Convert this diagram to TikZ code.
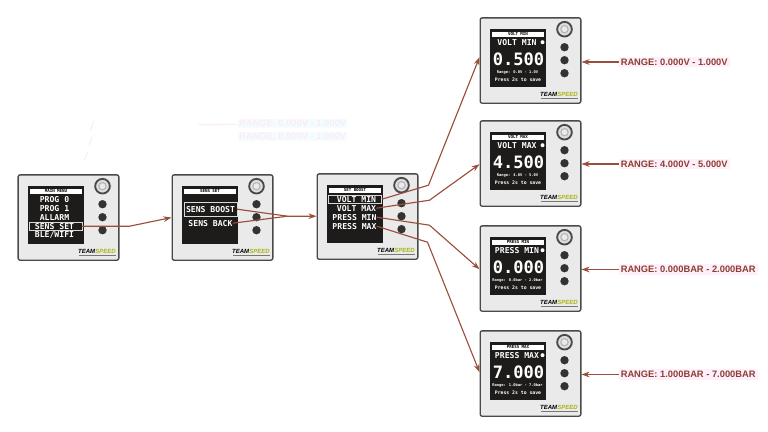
\documentclass[tikz,border=0pt]{standalone}
\usepackage{fontspec}
\setmainfont{Liberation Sans}
\newfontfamily\monob{DejaVu Sans Mono Bold}
\usetikzlibrary{arrows.meta}
\definecolor{panelfill}{HTML}{EAEAEA}
\definecolor{paneledge}{HTML}{4A4A4A}
\definecolor{screenc}{HTML}{1E1C1B}
\definecolor{wire}{HTML}{9A4E3C}
\definecolor{rangec}{HTML}{8A3F30}
\definecolor{halo}{HTML}{FFEFFA}
\definecolor{ghost}{HTML}{FBEBF8}
\definecolor{ghostb}{HTML}{F4FDFE}
\definecolor{logoy}{HTML}{A8B414}
\tikzset{
  panelbox/.style={draw=paneledge,line width=1pt,fill=panelfill,rounded corners=1.5pt,minimum width=75.5pt,minimum height=64pt,inner sep=0pt,anchor=north west},
  screenbox/.style={fill=screenc,minimum width=42.5pt,minimum height=43pt,inner sep=0pt,anchor=north west},
  titlebar/.style={fill=white,minimum width=39.5pt,minimum height=3.8pt,inner sep=0pt,font=\monob\fontsize{3.1}{3}\selectfont,text=black},
  menuitem/.style={text=white,inner sep=0pt,font=\monob\fontsize{6.1}{7}\selectfont},
  valuetxt/.style={text=white,inner sep=0pt,font=\monob\fontsize{12.8}{13}\selectfont},
  smalltxt/.style={text=white,inner sep=0pt,font=\monob\fontsize{2.8}{4}\selectfont},
  savetxt/.style={text=white,inner sep=0pt,font=\monob\fontsize{3.6}{5}\selectfont},
  selbox/.style={draw=white!85!black,line width=.5pt,fill=none,inner sep=0pt},
  knobo/.style={circle,draw=paneledge,line width=1.4pt,fill=gray!25,minimum size=11pt,inner sep=0pt},
  knobi/.style={circle,draw=gray!60,line width=.8pt,fill=panelfill,minimum size=5.5pt,inner sep=0pt},
  btn/.style={circle,fill=screenc!90!white,minimum size=6.3pt,inner sep=0pt},
  logotxt/.style={inner sep=0pt,font=\bfseries\itshape\fontsize{4.5}{5}\selectfont},
  wireline/.style={draw=wire,line width=.85pt},
  wirearrow/.style={wireline,-{Stealth[length=6pt,width=4.2pt]}},
  rangelabel/.style={text=rangec,fill=halo,inner sep=1.5pt,anchor=west,font=\bfseries\fontsize{7}{8}\selectfont},
  ghostlabel/.style={text=ghost,fill=ghostb,inner sep=1pt,anchor=west,font=\bfseries\fontsize{7}{8}\selectfont},
  ghostline/.style={draw=ghost,line width=.8pt},
}
% #1 name, #2 x, #3 y, #4 title
\newcommand{\devicepanel}[4]{%
  \node[panelbox] (#1) at (#2,#3) {};
  \node[screenbox] (#1s) at (#2+10,#3+12) {};
  \node[titlebar] (#1t) at (#2+38.5,#3+17) {#4};
  \node[knobo] (#1k) at (#2+85,#3+12) {};
  \node[knobi] (#1ki) at (#2+85,#3+12) {};
  \node[btn] (#1b1) at (#2+85,#3+30) {};
  \node[btn] (#1b2) at (#2+85,#3+43) {};
  \node[btn] (#1b3) at (#2+85,#3+56) {};
  \node[logotxt,anchor=east] (#1l1) at (#2+78,#3+77) {TEAM};
  \node[logotxt,anchor=west,text=logoy] (#1l2) at (#2+77.6,#3+77) {SPEED};
  \fill[screenc!60!white] (#2+61,#3+81) rectangle (#2+98,#3+81.7);
}
% #1 name, #2 x, #3 y, #4 title, #5 head, #6 value, #7 range
\newcommand{\editpanel}[7]{%
  \devicepanel{#1}{#2}{#3}{#4}
  \node[menuitem] (#1h) at (#2+37.5,#3+25) {#5};
  \fill[white] (#2+63,#3+25) circle (2);
  \node[valuetxt] (#1v) at (#2+39,#3+42) {#6};
  \node[smalltxt] (#1r) at (#2+38,#3+55.5) {#7};
  \node[savetxt] (#1p) at (#2+38.5,#3+63) {Press 2s to save};
}
\begin{document}
\begin{tikzpicture}[x=0.75pt,y=-0.75pt]
\useasboundingbox (0.5,0.8) rectangle (768.5,432.8);
\fill[white] (0.5,0.8) rectangle (768.5,432.8);
% faint leftovers
\node[ghostlabel] (g1) at (238,124.5) {RANGE: 0.000V - 1.000V};
\node[ghostlabel] (g2) at (238,137.5) {RANGE: 0.000V - 1.000V};
\coordinate (g1a) at (199,125.5);
\draw[ghostline] (g1) -- (g1a);
\coordinate (d1) at (94,122); \coordinate (d2) at (91,131);
\coordinate (d3) at (92,138); \coordinate (d4) at (90,146);
\coordinate (d5) at (88,153); \coordinate (d6) at (85,161);
\draw[ghostline] (d1) -- (d2);
\draw[ghostline] (d3) -- (d4);
\draw[ghostline] (d5) -- (d6);
% panels
\devicepanel{main}{18}{175}{MAIN MENU}
\node[menuitem] (p0) at (55,200.5) {PROG 0};
\node[menuitem] (p1) at (55,209.5) {PROG 1};
\node[menuitem] (al) at (55,218) {ALLARM};
\node[menuitem] (ss) at (55,227) {SENS SET};
\node[menuitem] (bw) at (55,236) {BLE/WIFI};
\node[selbox,minimum width=39.5pt,minimum height=6.5pt] (ssb) at (56,227) {};
\devicepanel{sens}{172}{175}{SENS SET}
\node[menuitem] (sb) at (211,210) {SENS BOOST};
\node[menuitem] (sk) at (211,224) {SENS BACK};
\node[selbox,minimum width=39.5pt,minimum height=10.5pt] (sbb) at (211,210) {};
\devicepanel{boost}{317}{174}{SET BOOST}
\node[menuitem] (vmin) at (357,200) {VOLT MIN};
\node[menuitem] (vmax) at (357,209) {VOLT MAX};
\node[menuitem] (pmin) at (355,218) {PRESS MIN};
\node[menuitem] (pmax) at (355,227) {PRESS MAX};
\node[selbox,minimum width=40pt,minimum height=6.3pt] (vminb) at (355.5,200) {};
\editpanel{ev}{480}{18}{VOLT MIN}{VOLT MIN}{0.500}{Range: 0.0V - 1.0V}
\editpanel{ew}{480}{121}{VOLT MAX}{VOLT MAX}{4.500}{Range: 4.0V - 5.0V}
\editpanel{ep}{480}{226}{PRESS MIN}{PRESS MIN}{0.000}{Range: 0.0bar - 2.0bar}
\editpanel{eq}{480}{331}{PRESS MAX}{PRESS MAX}{7.000}{Range: 1.0bar - 7.0bar}
% connectors
\coordinate (m1) at (130,227);
\draw[wirearrow] (ssb.east) -- (m1) -- (sens.west);
\coordinate (m2) at (288,217);
\draw[wirearrow] (sbb.east) -- (m2) -- (boost.west |- m2);
\draw[wireline] (sk.east) -- (m2);
\coordinate (a1) at (429,186);
\coordinate (a2) at (430,201);
\coordinate (a3) at (430,226);
\coordinate (a4) at (428,243);
\coordinate (t1) at (480,58);
\coordinate (t2) at (480,165);
\coordinate (t3) at (480,270);
\coordinate (t4) at (480,373);
\draw[wirearrow] (vminb.east) -- (a1) -- (t1);
\draw[wirearrow] (vmax.east) -- (a2) -- (t2);
\draw[wirearrow] (pmin.east) -- (a3) -- (t3);
\draw[wirearrow] (pmax.east) -- (a4) -- (t4);
% range labels
\node[rangelabel] (rv) at (619,62.8) {RANGE: 0.000V - 1.000V};
\node[rangelabel] (rw) at (619,164.8) {RANGE: 4.000V - 5.000V};
\node[rangelabel] (rp) at (619,270.3) {RANGE: 0.000BAR - 2.000BAR};
\node[rangelabel] (rq) at (619,375.3) {RANGE: 1.000BAR - 7.000BAR};
\draw[wirearrow] (rv.west) -- (ev.east |- rv.west);
\draw[wirearrow] (rw.west) -- (ew.east |- rw.west);
\draw[wirearrow] (rp.west) -- (ep.east |- rp.west);
\draw[wirearrow] (rq.west) -- (eq.east |- rq.west);
\end{tikzpicture}
\end{document}
